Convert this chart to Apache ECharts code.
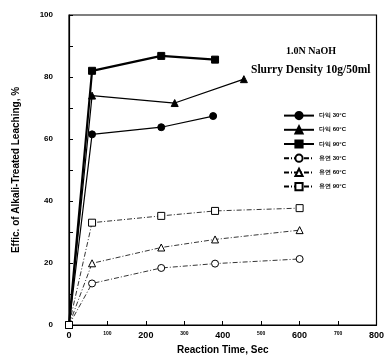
<!DOCTYPE html>
<html>
<head>
<meta charset="utf-8">
<script src="https://cdn.jsdelivr.net/npm/echarts@6/dist/echarts.min.js"></script>
<style>
	html, body { margin: 0; padding: 0; background: #fff; }
	#main { width: 387px; height: 361px; }
</style>
</head>
<body>
<div id="main"></div>
<script>
	// 데이터: [반응시간(sec), 효율(%)]
	var seriesNames = ['다익 30°C', '다익 60°C', '다익 90°C', '유연 30°C', '유연 60°C', '유연 90°C'];
	var d30 = [[0, 0], [60, 61.5], [240, 63.8], [375, 67.4]];
	var d60 = [[0, 0], [60, 74], [275, 71.6], [455, 79.3]];
	var d90 = [[0, 0], [60, 82], [240, 86.8], [380, 85.6]];
	var u30 = [[0, 0], [60, 13.4], [240, 18.4], [380, 19.8], [600, 21.3]];
	var u60 = [[0, 0], [60, 19.9], [240, 25], [380, 27.6], [600, 30.6]];
	var u90 = [[0, 0], [60, 33], [240, 35.2], [380, 36.8], [600, 37.7]];
	var xTicks = [0, 100, 200, 300, 400, 500, 600, 700, 800];
	var yTicks = [0, 20, 40, 60, 80, 100];

	function makeSeries(name, data, symbol, filled, width, dashed) {
		return {
			name: name,
			type: 'line',
			data: data,
			symbol: symbol,
			symbolSize: 7,
			showAllSymbol: true,
			lineStyle: { color: '#000', width: width, type: dashed ? [5, 2, 1, 2] : 'solid' },
			itemStyle: { color: filled ? '#000' : '#fff', borderColor: '#000', borderWidth: 1 },
			emphasis: { disabled: true },
			z: 3
		};
	}

	var myChart = echarts.init(document.getElementById('main'));
	var option = {
		animation: false,
		textStyle: { fontFamily: 'Liberation Sans, Arial, sans-serif' },
		grid: { left: 69, right: 6, top: 15, bottom: 36, show: true, borderColor: '#000', borderWidth: 1.2 },
		legend: {
			orient: 'vertical',
			left: 278,
			top: 106,
			itemWidth: 30,
			itemHeight: 9,
			itemGap: 5,
			data: seriesNames,
			textStyle: { fontSize: 6, fontWeight: 'bold', color: '#000' },
			inactiveColor: '#000'
		},
		xAxis: {
			type: 'value',
			min: 0,
			max: 800,
			interval: 100,
			name: 'Reaction Time, Sec',
			nameLocation: 'middle',
			nameGap: 18,
			nameTextStyle: { fontSize: 10, fontWeight: 'bold', color: '#000' },
			axisLine: { onZero: false, lineStyle: { color: '#000', width: 1.2 } },
			axisTick: { inside: true, length: 4, lineStyle: { color: '#000' } },
			splitLine: { show: false },
			axisLabel: {
				margin: 6,
				color: '#000',
				formatter: function (v) {
					return (v / 100) % 2 === 0 ? '{big|' + v + '}' : '{small|' + v + '}';
				},
				rich: {
					big: { fontSize: 9, fontWeight: 'bold', color: '#000' },
					small: { fontSize: 5, fontWeight: 'bold', color: '#000', padding: [0, 0, 8, 0] }
				}
			}
		},
		yAxis: {
			type: 'value',
			min: 0,
			max: 100,
			interval: 20,
			name: 'Effic. of Alkali-Treated Leaching, %',
			nameLocation: 'middle',
			nameGap: 48,
			nameTextStyle: { fontSize: 10, fontWeight: 'bold', color: '#000' },
			axisLine: { onZero: false, lineStyle: { color: '#000', width: 1.2 } },
			axisTick: { inside: true, length: 4, lineStyle: { color: '#000' } },
			minorTick: { show: true, splitNumber: 2, length: 4, lineStyle: { color: '#000' } },
			splitLine: { show: false },
			axisLabel: { margin: 16, fontSize: 8, fontWeight: 'bold', color: '#000' }
		},
		graphic: [
			{ type: 'text', left: 286, top: 46, style: { text: '1.0N NaOH', font: 'bold 10px "Liberation Serif", serif', fill: '#000' } },
			{ type: 'text', left: 251, top: 64, style: { text: 'Slurry Density 10g/50ml', font: 'bold 11.5px "Liberation Serif", serif', fill: '#000' } }
		],
		series: [
			makeSeries(seriesNames[0], d30, 'circle', true, 1.2, false),
			makeSeries(seriesNames[1], d60, 'triangle', true, 1.2, false),
			makeSeries(seriesNames[2], d90, 'rect', true, 2.2, false),
			makeSeries(seriesNames[3], u30, 'circle', false, 0.8, true),
			makeSeries(seriesNames[4], u60, 'triangle', false, 0.8, true),
			makeSeries(seriesNames[5], u90, 'rect', false, 0.8, true)
		]
	};
	myChart.setOption(option);
</script>
</body>
</html>
